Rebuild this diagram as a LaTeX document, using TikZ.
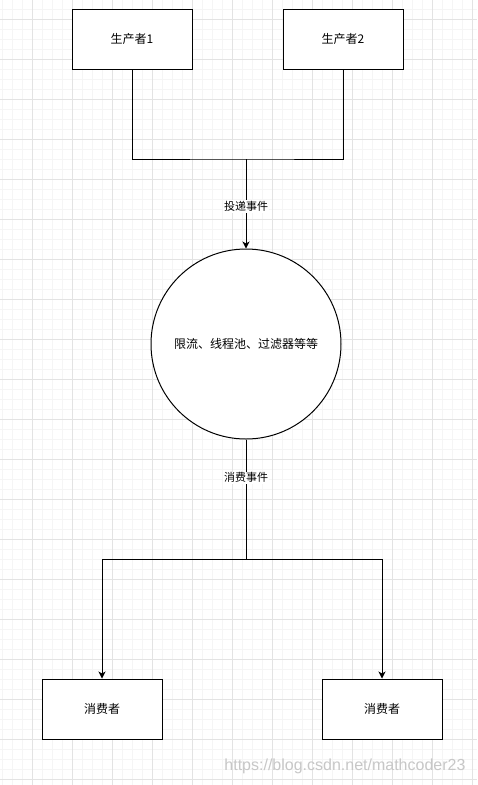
\documentclass[tikz,border=0pt]{standalone}
\usepackage{fontspec}
\newfontfamily\cjk{Noto Sans CJK SC}
\usetikzlibrary{arrows.meta, positioning}

\begin{document}
\begin{tikzpicture}[x=1pt, y=-1pt,
    box/.style={draw, line width=1pt, fill=white, minimum width=120pt, minimum height=60pt,
        font=\cjk\fontsize{12}{14}\selectfont},
    hub/.style={draw, circle, line width=1pt, fill=white, minimum size=190pt, inner sep=0pt,
        font=\cjk\fontsize{12}{14}\selectfont},
    lbl/.style={fill=white, inner sep=1pt, font=\cjk\fontsize{11}{13}\selectfont},
    link/.style={line width=1pt},
    arr/.style={line width=1pt, -{Stealth[length=7pt, width=7pt, inset=2pt]}}]

    % page and grid
    \useasboundingbox (0,0) rectangle (477,785);
    \fill[white] (0,0) rectangle (477,785);
    \foreach \x in {2,12,...,472} \draw[black!4, line width=0.8pt] (\x,0) -- (\x,785);
    \foreach \y in {9,19,...,779} \draw[black!4, line width=0.8pt] (0,\y) -- (477,\y);
    \foreach \x in {32,72,...,472} \draw[black!11, line width=0.8pt] (\x,0) -- (\x,785);
    \foreach \y in {19,59,...,779} \draw[black!11, line width=0.8pt] (0,\y) -- (477,\y);

    % producers
    \node[box] (prod1) at (132,39) {生产者1};
    \node[box] (prod2) at (343,39) {生产者2};

    % filter
    \node[hub] (filter) at (246,344) {限流、线程池、过滤器等等};

    % consumers
    \node[box] (cons1) at (102,709) {消费者};
    \node[box] (cons2) at (382,709) {消费者};

    \coordinate (merge) at (246,159);
    \coordinate (split) at (246,559);

    \draw[link] (prod1.south) |- (merge) -| (prod2.south);
    \draw[arr] (merge) -- node[lbl, pos=0.53] {投递事件} (filter.north);
    \draw[link] (filter.south) -- node[lbl, pos=0.32] {消费事件} (split);
    \draw[arr] (split) -| (cons1.north);
    \draw[arr] (split) -| (cons2.north);

    % watermark
    \node[anchor=east, text=black!22, font=\fontspec{Liberation Sans}\fontsize{16}{18}\selectfont]
        (mark) at (469,766) {https://blog.csdn.net/mathcoder23};
\end{tikzpicture}
\end{document}
